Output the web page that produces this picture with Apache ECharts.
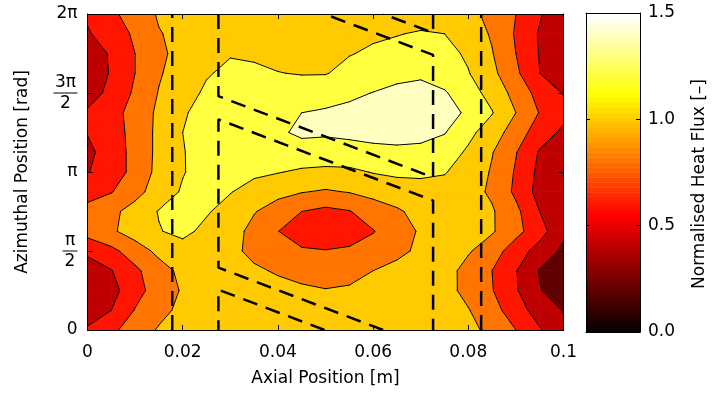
<!DOCTYPE html>
<html>
<head>
<meta charset="utf-8">
<script src="https://cdn.jsdelivr.net/npm/echarts@6.0.0/dist/echarts.min.js"></script>
<style>
html,body{margin:0;padding:0;background:#fff;}
#chart{width:714px;height:396px;}
</style>
</head>
<body>
<div id="chart"></div>
<script>
// ---------------- data ----------------
const axialPositions = [0,0.005,0.01,0.015,0.02,0.025,0.03,0.035,0.04,0.045,0.05,0.055,0.06,0.065,0.07,0.075,0.08,0.085,0.09,0.095,0.1];
const azimuthOverPi = [0,0.125,0.25,0.375,0.5,0.625,0.75,0.875,1,1.125,1.25,1.375,1.5,1.625,1.75,1.875,2];
// normalised heat flux, one row per azimuthal position (0 .. 2pi), one column per axial position
const heatFlux = [
  [0.63,0.76,0.89,1.02,1.05,1.07,1.08,1.08,1.08,1.07,1.07,1.08,1.09,1.10,1.10,1.09,1.05,0.95,0.80,0.62,0.44],
  [0.48,0.60,0.81,0.94,1.05,1.08,1.09,1.09,1.08,1.07,1.07,1.08,1.09,1.10,1.10,1.08,1.01,0.87,0.70,0.50,0.39],
  [0.42,0.53,0.73,0.89,1.02,1.07,1.08,1.08,1.06,1.04,1.01,1.03,1.06,1.08,1.10,1.07,0.94,0.81,0.62,0.41,0.30],
  [0.45,0.59,0.76,0.92,1.05,1.09,1.10,1.03,0.98,0.92,0.90,0.92,1.00,1.06,1.10,1.08,0.93,0.80,0.61,0.39,0.28],
  [0.66,0.75,0.90,1.05,1.12,1.12,1.05,0.95,0.87,0.83,0.81,0.83,0.88,0.95,1.04,1.10,1.02,0.89,0.70,0.52,0.36],
  [0.87,0.97,1.09,1.19,1.25,1.15,1.07,0.95,0.805,0.67,0.65,0.70,0.79,0.92,1.02,1.10,1.08,1.02,0.86,0.68,0.44],
  [0.85,0.95,1.08,1.21,1.26,1.22,1.12,1.01,0.92,0.80,0.75,0.79,0.90,0.97,1.07,1.12,1.10,1.02,0.85,0.60,0.45],
  [0.74,0.79,0.93,1.10,1.22,1.27,1.21,1.12,1.05,1.01,0.98,1.01,1.06,1.12,1.14,1.14,1.07,0.97,0.76,0.53,0.45],
  [0.59,0.70,0.86,1.06,1.19,1.27,1.27,1.24,1.21,1.17,1.15,1.16,1.21,1.23,1.23,1.21,1.13,0.98,0.78,0.55,0.45],
  [0.55,0.70,0.86,1.05,1.19,1.28,1.30,1.30,1.32,1.33,1.33,1.33,1.35,1.36,1.35,1.30,1.17,1.01,0.81,0.58,0.45],
  [0.61,0.72,0.86,1.05,1.20,1.26,1.29,1.32,1.375,1.43,1.42,1.44,1.46,1.47,1.46,1.41,1.25,1.10,0.90,0.70,0.56],
  [0.63,0.73,0.87,1.04,1.185,1.25,1.28,1.30,1.33,1.40,1.42,1.45,1.48,1.50,1.50,1.47,1.37,1.21,1.00,0.79,0.66],
  [0.50,0.66,0.83,1.01,1.10,1.24,1.27,1.28,1.28,1.30,1.33,1.36,1.405,1.46,1.48,1.42,1.28,1.135,0.93,0.73,0.59],
  [0.45,0.62,0.80,0.98,1.10,1.18,1.25,1.25,1.205,1.19,1.19,1.26,1.30,1.33,1.36,1.30,1.21,1.05,0.84,0.60,0.45],
  [0.46,0.63,0.80,0.97,1.05,1.10,1.185,1.16,1.15,1.15,1.16,1.19,1.23,1.27,1.28,1.26,1.17,1.01,0.80,0.59,0.40],
  [0.58,0.70,0.83,0.99,1.05,1.08,1.10,1.11,1.11,1.12,1.13,1.15,1.17,1.19,1.22,1.20,1.10,0.98,0.78,0.58,0.45],
  [0.63,0.76,0.89,1.02,1.05,1.07,1.08,1.08,1.08,1.07,1.07,1.08,1.09,1.10,1.10,1.09,1.05,0.95,0.80,0.62,0.44]
];
const contourLevels = [0.2,0.4,0.6,0.8,1.0,1.2,1.4];
const xTickLabels = ['0','0.02','0.04','0.06','0.08','0.1'];
const yTickLabels = ['0','{n|π}\n{bs| }\n{d|2}','π','{n|3π}\n{bl| }\n{d|2}','2π'];
const colorbarTickLabels = ['0.0','0.5','1.0','1.5'];
// twisted-tape outline, points as [axial position, azimuth / pi]
const tapeOutlines = [
  [[0.0178,0],[0.0178,2]],
  [[0.0827,0],[0.0827,2]],
  [[0.0275,2],[0.0275,1.48],[0.0726,0.966],[0.0726,1.741],[0.0498,2]],
  [[0.0498,0],[0.0275,0.255],[0.0275,0]],
  [[0.0726,2],[0.0726,1.881],[0.0621,2]],
  [[0.0621,0],[0.0275,0.395],[0.0275,1.333],[0.0726,0.819],[0.0726,0]]
];

// ---------------- helpers ----------------
const FONT = 'DejaVu Sans';
const CMAX = 1.5, NCOL = 64;
function hot64(k){
  const r = Math.min(1,(k+1)/24);
  const g = k < 24 ? 0 : Math.min(1,(k-23)/24);
  const b = k < 48 ? 0 : (k-47)/16;
  return 'rgb(' + Math.round(r*255) + ',' + Math.round(g*255) + ',' + Math.round(b*255) + ')';
}
function levelColor(v){
  let k = Math.floor(v/CMAX*NCOL);
  k = Math.max(0, Math.min(NCOL-1, k));
  return hot64(k);
}
const theta = azimuthOverPi.map(v => v*Math.PI);
const bandLo = [-Infinity].concat(contourLevels);
const bandHi = contourLevels.concat([Infinity]);
const bandColor = bandLo.map(lo => levelColor(lo === -Infinity ? 0 : lo));

function clip(poly, L, keepAbove){
  const out = [];
  for (let i = 0; i < poly.length; i++){
    const a = poly[i], b = poly[(i+1) % poly.length];
    const ina = keepAbove ? a.z >= L : a.z < L;
    const inb = keepAbove ? b.z >= L : b.z < L;
    if (ina) out.push(a);
    if (ina !== inb){
      const t = (L - a.z)/(b.z - a.z);
      out.push({x:a.x + t*(b.x-a.x), y:a.y + t*(b.y-a.y), z:L});
    }
  }
  return out;
}
function corners(i, j){
  return [[i,j],[i+1,j],[i+1,j+1],[i,j+1]].map(([a,b]) => ({x:axialPositions[a], y:theta[b], z:heatFlux[b][a]}));
}
const cells = [];
for (let j = 0; j < theta.length-1; j++)
  for (let i = 0; i < axialPositions.length-1; i++)
    cells.push([axialPositions[i], theta[j], i, j]);

function renderFill(params, api){
  const i = api.value(2), j = api.value(3);
  const quad = corners(i, j);
  const children = [];
  for (let b = 0; b < bandLo.length; b++){
    let poly = quad;
    if (bandLo[b] > -Infinity) poly = clip(poly, bandLo[b], true);
    if (poly.length >= 3 && bandHi[b] < Infinity) poly = clip(poly, bandHi[b], false);
    if (poly.length < 3) continue;
    children.push({type:'polygon', silent:true,
      shape:{points: poly.map(p => api.coord([p.x, p.y]))},
      style:{fill:bandColor[b], stroke:bandColor[b], lineWidth:0.8}});
  }
  return {type:'group', children};
}
function renderLines(params, api){
  const i = api.value(2), j = api.value(3);
  const q = corners(i, j);
  const children = [];
  contourLevels.forEach(L => {
    const cross = [];
    for (let e = 0; e < 4; e++){
      const a = q[e], b = q[(e+1)%4];
      if ((a.z >= L) !== (b.z >= L)){
        const t = (L - a.z)/(b.z - a.z);
        cross[e] = {x:a.x + t*(b.x-a.x), y:a.y + t*(b.y-a.y)};
      }
    }
    const es = [0,1,2,3].filter(e => cross[e]);
    let pairs = [];
    if (es.length === 2) pairs = [[es[0], es[1]]];
    else if (es.length === 4){
      const c = (q[0].z+q[1].z+q[2].z+q[3].z)/4;
      pairs = ((c >= L) === (q[0].z >= L)) ? [[0,1],[2,3]] : [[3,0],[1,2]];
    }
    pairs.forEach(([e1, e2]) => {
      const p1 = api.coord([cross[e1].x, cross[e1].y]);
      const p2 = api.coord([cross[e2].x, cross[e2].y]);
      children.push({type:'line', silent:true,
        shape:{x1:p1[0], y1:p1[1], x2:p2[0], y2:p2[1]},
        style:{stroke:'#000', lineWidth:1, lineCap:'round'}});
    });
  });
  return {type:'group', children};
}
const colorbarData = [];
for (let k = 0; k < NCOL; k++) colorbarData.push([0, k*CMAX/NCOL, k]);
function renderColorbar(params, api){
  const k = api.value(2);
  const p1 = api.coord([0, (k+1)*CMAX/NCOL]);
  const p2 = api.coord([1, k*CMAX/NCOL]);
  return {type:'rect', silent:true,
    shape:{x:p1[0], y:p1[1]-0.3, width:p2[0]-p1[0], height:p2[1]-p1[1]+0.6},
    style:{fill:hot64(k)}};
}

const lineAx = {show:true, onZero:false, lineStyle:{color:'#000', width:1}};
const tickIn = {show:true, inside:true, length:5, lineStyle:{color:'#000', width:1}};
const noLabel = {show:false};
const noSplit = {show:false};

const option = {
  animation:false,
  backgroundColor:'#fff',
  textStyle:{fontFamily:FONT},
  grid:[
    {left:87.5, top:14, width:476, height:316},
    {left:586, top:13, width:54, height:319}
  ],
  xAxis:[
    {gridIndex:0, type:'value', min:0, max:0.1, interval:0.02, position:'bottom', z:10,
     name:'Axial Position [m]', nameLocation:'middle', nameGap:40,
     nameTextStyle:{fontSize:17, color:'#000', fontFamily:FONT},
     axisLine:lineAx, axisTick:tickIn, splitLine:noSplit,
     axisLabel:{show:true, margin:14, fontSize:17, color:'#000', fontFamily:FONT, showMinLabel:true, showMaxLabel:true,
       formatter:v => xTickLabels[Math.round(v/0.02)]}},
    {gridIndex:0, type:'value', min:0, max:0.1, interval:0.02, position:'top', z:10,
     axisLine:lineAx, axisTick:tickIn, splitLine:noSplit, axisLabel:noLabel},
    {gridIndex:1, type:'value', min:0, max:1, position:'bottom', z:10,
     axisLine:lineAx, axisTick:{show:false}, splitLine:noSplit, axisLabel:noLabel},
    {gridIndex:1, type:'value', min:0, max:1, position:'top', z:10,
     axisLine:lineAx, axisTick:{show:false}, splitLine:noSplit, axisLabel:noLabel}
  ],
  yAxis:[
    {gridIndex:0, type:'value', min:0, max:2*Math.PI, interval:Math.PI/2, position:'left', z:10,
     name:'Azimuthal Position [rad]', nameLocation:'middle', nameGap:56, nameRotate:90,
     nameTextStyle:{fontSize:17, color:'#000', fontFamily:FONT},
     axisLine:lineAx, axisTick:tickIn, splitLine:noSplit,
     axisLabel:{show:true, margin:10, fontSize:17, color:'#000', fontFamily:FONT, showMinLabel:true, showMaxLabel:true,
       formatter:v => yTickLabels[Math.round(v/(Math.PI/2))],
       rich:{
         n:{fontSize:17, lineHeight:17, align:'center', color:'#000', fontFamily:FONT},
         d:{fontSize:17, lineHeight:17, align:'center', color:'#000', fontFamily:FONT},
         bs:{width:15, height:1, lineHeight:4, fontSize:2, align:'center', backgroundColor:'#000'},
         bl:{width:24, height:1, lineHeight:4, fontSize:2, align:'center', backgroundColor:'#000'}
       }}},
    {gridIndex:0, type:'value', min:0, max:2*Math.PI, interval:Math.PI/2, position:'right', z:10,
     axisLine:lineAx, axisTick:tickIn, splitLine:noSplit, axisLabel:noLabel},
    {gridIndex:1, type:'value', min:0, max:1.5, interval:0.5, position:'left', z:10,
     axisLine:lineAx, axisTick:{show:true, inside:true, length:4, lineStyle:{color:'#000'}}, splitLine:noSplit, axisLabel:noLabel},
    {gridIndex:1, type:'value', min:0, max:1.5, interval:0.5, position:'right', z:10,
     axisLine:lineAx, axisTick:{show:true, inside:true, length:4, lineStyle:{color:'#000'}}, splitLine:noSplit,
     axisLabel:{show:true, margin:8, fontSize:17, color:'#000', fontFamily:FONT, showMinLabel:true, showMaxLabel:true,
       formatter:v => colorbarTickLabels[Math.round(v/0.5)]}}
  ],
  series:[
    {type:'custom', xAxisIndex:0, yAxisIndex:0, data:cells, renderItem:renderFill, encode:{x:0, y:1}, z:1, silent:true, clip:true},
    {type:'custom', xAxisIndex:0, yAxisIndex:0, data:cells, renderItem:renderLines, encode:{x:0, y:1}, z:2, silent:true, clip:true}
  ].concat(tapeOutlines.map(seg => ({
    type:'line', xAxisIndex:0, yAxisIndex:0, z:3, silent:true,
    data:seg.map(p => [p[0], p[1]*Math.PI]),
    symbol:'none', showSymbol:false,
    lineStyle:{color:'#000', width:2.5, type:[15,9]}
  }))).concat([
    {type:'custom', xAxisIndex:2, yAxisIndex:2, data:colorbarData, renderItem:renderColorbar, encode:{x:0, y:1}, z:1, silent:true}
  ]),
  graphic:[
    {type:'text', x:700, y:184, rotation:Math.PI/2, silent:true,
     style:{text:'Normalised Heat Flux [–]', fontSize:17, fontFamily:FONT, fill:'#000', align:'center', verticalAlign:'middle'}}
  ]
};
const chart = echarts.init(document.getElementById('chart'), null, {renderer:'canvas'});
chart.setOption(option);
</script>
</body>
</html>
